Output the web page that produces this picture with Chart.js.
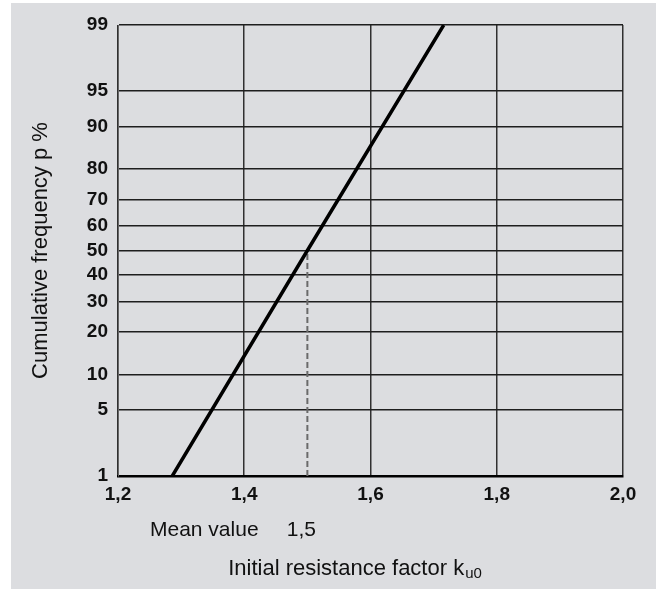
<!DOCTYPE html>
<html>
<head>
<meta charset="utf-8">
<script src="https://cdn.jsdelivr.net/npm/chart.js@4/dist/chart.umd.min.js"></script>
<style>
  html, body { margin: 0; padding: 0; background: #ffffff; }
  #wrap { width: 656px; height: 589px; position: relative; }
  canvas { display: block; }
</style>
</head>
<body>
<div id="wrap"><canvas id="c" width="656" height="589"></canvas></div>
<script>
// ---- data ----
const xTicks = [1.2, 1.4, 1.6, 1.8, 2.0];
const pTicks = [1, 5, 10, 20, 30, 40, 50, 60, 70, 80, 90, 95, 99];
const kValues = [1.286, 1.5, 1.716];   // initial resistance factor
const pValues = [1, 50, 99];           // cumulative frequency p %
const meanK = [1.5, 1.5];
const meanP = [1, 50];
const meanLabel = 'Mean value';
const meanText = '1,5';
const xTitle = 'Initial resistance factor k';
const xTitleSub = 'u0';
const yTitle = 'Cumulative frequency p %';

// ---- normal-probability axis (probit) ----
function probit(p) {
  p = Math.min(Math.max(p, 1e-9), 1 - 1e-9);
  const a = [-3.969683028665376e+01, 2.209460984245205e+02, -2.759285104469687e+02, 1.383577518672690e+02, -3.066479806614716e+01, 2.506628277386502e+00];
  const b = [-5.447609879822406e+01, 1.615858368580409e+02, -1.556989798598866e+02, 6.680131188771972e+01, -1.328068155288572e+01];
  const c = [-7.784894002430293e-03, -3.223964580411365e-01, -2.400758277161838e+00, -2.549671348883450e+00, 4.374664141464968e+00, 2.938163982698783e+00];
  const d = [7.784695709041462e-03, 3.224671290700398e-01, 2.445134137142996e+00, 3.754408661907416e+00];
  const pl = 0.02425, ph = 1 - pl;
  let q, r;
  if (p < pl) {
    q = Math.sqrt(-2 * Math.log(p));
    return (((((c[0]*q+c[1])*q+c[2])*q+c[3])*q+c[4])*q+c[5]) / ((((d[0]*q+d[1])*q+d[2])*q+d[3])*q+1);
  }
  if (p <= ph) {
    q = p - 0.5; r = q * q;
    return (((((a[0]*r+a[1])*r+a[2])*r+a[3])*r+a[4])*r+a[5])*q / (((((b[0]*r+b[1])*r+b[2])*r+b[3])*r+b[4])*r+1);
  }
  q = Math.sqrt(-2 * Math.log(1 - p));
  return -(((((c[0]*q+c[1])*q+c[2])*q+c[3])*q+c[4])*q+c[5]) / ((((d[0]*q+d[1])*q+d[2])*q+d[3])*q+1);
}
function normCdf(z) {
  const t = 1 / (1 + 0.3275911 * Math.abs(z) / Math.SQRT2);
  const y = 1 - (((((1.061405429*t - 1.453152027)*t) + 1.421413741)*t - 0.284496736)*t + 0.254829592)*t*Math.exp(-z*z/2);
  return z >= 0 ? 0.5 * (1 + y) : 0.5 * (1 - y);
}

class ProbitScale extends Chart.Scale {
  constructor(cfg) { super(cfg); this._startValue = undefined; this._valueRange = 0; }
  parse(raw, index) {
    const v = Chart.LinearScale.prototype.parse.apply(this, [raw, index]);
    return isFinite(v) ? v : null;
  }
  determineDataLimits() {
    this.min = this.options.min;
    this.max = this.options.max;
  }
  buildTicks() { return pTicks.map(v => ({ value: v })); }
  getLabelForValue(v) { return String(v); }
  configure() {
    super.configure();
    this._startValue = probit(this.min / 100);
    this._valueRange = probit(this.max / 100) - this._startValue;
  }
  getPixelForValue(v) {
    if (v === undefined || v === null || v <= 0) v = this.min;
    return this.getPixelForDecimal((probit(v / 100) - this._startValue) / this._valueRange);
  }
  getValueForPixel(px) {
    const dec = this.getDecimalForPixel(px);
    return 100 * normCdf(this._startValue + dec * this._valueRange);
  }
}
ProbitScale.id = 'probit';
ProbitScale.defaults = {};
Chart.register(ProbitScale);

const bgPlugin = {
  id: 'bg',
  beforeDraw(chart) {
    const ctx = chart.ctx;
    ctx.save();
    ctx.fillStyle = '#dcdde0';
    ctx.fillRect(11, 3, 645, 586);
    ctx.restore();
  },
  afterDraw(chart) {
    const ctx = chart.ctx;
    const xs = chart.scales.x;
    ctx.save();
    ctx.fillStyle = '#111';
    ctx.textBaseline = 'alphabetic';
    ctx.font = '21px "Liberation Sans", Arial, sans-serif';
    ctx.textAlign = 'left';
    ctx.fillText(meanLabel, 150, 536);
    ctx.textAlign = 'center';
    ctx.fillText(meanText, xs.getPixelForValue(meanK[0]) - 6, 536);
    ctx.textAlign = 'left';
    ctx.font = '22px "Liberation Sans", Arial, sans-serif';
    const w = ctx.measureText(xTitle).width;
    ctx.font = '15px "Liberation Sans", Arial, sans-serif';
    const ws = ctx.measureText(xTitleSub).width;
    const x0 = (chart.chartArea.left + chart.chartArea.right) / 2 - 16 - (w + ws) / 2;
    ctx.font = '22px "Liberation Sans", Arial, sans-serif';
    ctx.fillText(xTitle, x0, 575);
    ctx.font = '15px "Liberation Sans", Arial, sans-serif';
    ctx.fillText(xTitleSub, x0 + w + 1, 578);
    ctx.restore();
  }
};

new Chart(document.getElementById('c'), {
  type: 'line',
  data: {
    datasets: [
      {
        data: kValues.map((k, i) => ({ x: k, y: pValues[i] })),
        borderColor: '#000',
        borderWidth: 3.5,
        pointRadius: 0,
        fill: false,
        tension: 0
      },
      {
        data: meanK.map((k, i) => ({ x: k, y: meanP[i] })),
        borderColor: '#6a6a6a',
        borderWidth: 2,
        borderDash: [6, 3],
        pointRadius: 0,
        fill: false,
        tension: 0
      }
    ]
  },
  options: {
    responsive: false,
    animation: false,
    devicePixelRatio: 1,
    layout: { padding: { left: 24, top: 25, right: 33, bottom: 73 } },
    plugins: { legend: { display: false }, tooltip: { enabled: false } },
    scales: {
      x: {
        type: 'linear',
        min: 1.2,
        max: 2.0,
        afterFit: s => { s.height = 40; },
        afterBuildTicks: s => { s.ticks = xTicks.map(v => ({ value: v })); },
        ticks: {
          padding: 7,
          color: '#111',
          font: { family: '"Liberation Sans", Arial, sans-serif', size: 19, weight: 'bold' },
          callback: v => v.toFixed(1).replace('.', ',')
        },
        grid: { color: '#303030', lineWidth: 1.5, drawTicks: false },
        border: { color: '#000', width: 2.5 }
      },
      y: {
        type: 'probit',
        min: 1,
        max: 99,
        afterFit: s => { s.width = 94; },
        ticks: {
          padding: 10,
          color: '#111',
          font: { family: '"Liberation Sans", Arial, sans-serif', size: 19, weight: 'bold' }
        },
        grid: { color: '#1e1e1e', lineWidth: 1.5, drawTicks: false },
        border: { color: '#666', width: 1 },
        title: {
          display: true,
          text: yTitle,
          color: '#111',
          font: { family: '"Liberation Sans", Arial, sans-serif', size: 22 },
          padding: { top: 4, bottom: 4 }
        }
      }
    }
  },
  plugins: [bgPlugin]
});
</script>
</body>
</html>
